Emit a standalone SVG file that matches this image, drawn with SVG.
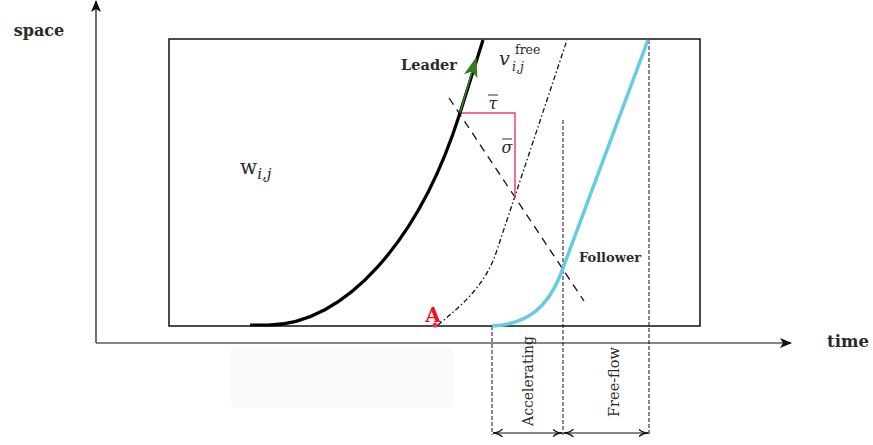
<svg xmlns="http://www.w3.org/2000/svg" width="873" height="445" viewBox="0 0 873 445">
<defs>
<marker id="ax" viewBox="0 0 12 10" refX="11" refY="5" markerWidth="12" markerHeight="10" markerUnits="userSpaceOnUse" orient="auto">
<path d="M0,0 L12,5 L0,10 L3,5 Z" fill="#111"/>
</marker>
<marker id="dim" viewBox="0 0 10 8" refX="9.5" refY="4" markerWidth="10" markerHeight="8" markerUnits="userSpaceOnUse" orient="auto-start-reverse">
<path d="M0,0 Q4,4 10,4 Q4,4 0,8" fill="none" stroke="#111" stroke-width="1.3"/>
</marker>
<marker id="gr" viewBox="0 0 20 14" refX="19" refY="7" markerWidth="20" markerHeight="14" markerUnits="userSpaceOnUse" orient="auto">
<path d="M0,0 L20,7 L0,14 L5,7 Z" fill="#3a7d1e"/>
</marker>
</defs>
<style>
.lbl{font-family:"DejaVu Serif","Liberation Serif",serif;fill:#2a2a2a}
.b{font-weight:bold}
.it{font-style:italic}
.dash{fill:none;stroke:#111;stroke-width:1;stroke-dasharray:4,2}
</style>
<rect x="0" y="0" width="873" height="445" fill="#fff"/>
<rect x="231" y="348" width="222" height="59" fill="#fafafa"/>

<g id="axes">
<line x1="96" y1="343" x2="96" y2="1" stroke="#111" stroke-width="1.2" marker-end="url(#ax)"/>
<line x1="96" y1="343" x2="791" y2="343" stroke="#111" stroke-width="1.2" marker-end="url(#ax)"/>
<text class="lbl b" x="39" y="36" font-size="16" text-anchor="middle">space</text>
<text class="lbl b" x="848" y="347" font-size="16.5" text-anchor="middle">time</text>
</g>

<g id="region">
<rect x="169" y="39" width="531" height="287" fill="none" stroke="#000" stroke-width="1.4"/>
<text class="lbl" x="240" y="174" font-size="20">w<tspan class="it" font-size="15" dy="5">i,j</tspan></text>
</g>

<g id="connectors">
<line x1="449" y1="98" x2="584" y2="301" stroke="#111" stroke-width="1.3" stroke-dasharray="8,6"/>
<path d="M438,325 C462,305 486,285 497,250 L567,40" fill="none" stroke="#111" stroke-width="1.3" stroke-dasharray="5,2.5,1.5,2.5"/>
<line class="dash" x1="563" y1="120" x2="563" y2="435"/>
<line class="dash" x1="649" y1="40" x2="649" y2="435"/>
<line class="dash" x1="492" y1="326" x2="492" y2="435"/>
<line x1="493" y1="433" x2="562" y2="433" stroke="#111" stroke-width="1.2" marker-start="url(#dim)" marker-end="url(#dim)"/>
<line x1="564" y1="433" x2="648" y2="433" stroke="#111" stroke-width="1.2" marker-start="url(#dim)" marker-end="url(#dim)"/>
<polyline points="460,113 515,113 515,198" fill="none" stroke="#ee4466" stroke-width="1.5"/>
</g>

<g id="leader">
<path d="M250,325 L268,325 C345,325 420,240 460,113 L483,40" fill="none" stroke="#000" stroke-width="3.2"/>
<line x1="460" y1="113" x2="476" y2="58" stroke="#3a7d1e" stroke-width="1.6" marker-end="url(#gr)"/>
<text class="lbl b" x="429" y="70" font-size="14.5" text-anchor="middle">Leader</text>
</g>

<g id="vfree">
<text class="lbl it" x="499" y="65" font-size="19">v</text>
<text class="lbl" x="515" y="54" font-size="12.5">free</text>
<text class="lbl it" x="512" y="71" font-size="12.5">i,j</text>
</g>

<g id="tau">
<text class="lbl it" x="493" y="109" font-size="16" text-anchor="middle">τ</text>
<line x1="488" y1="95" x2="498" y2="95" stroke="#333" stroke-width="1"/>
</g>
<g id="sigma">
<text class="lbl it" x="507" y="153" font-size="16" text-anchor="middle">σ</text>
<line x1="502" y1="139" x2="512" y2="139" stroke="#333" stroke-width="1"/>
</g>

<g id="pointA">
<circle cx="435" cy="325" r="2.6" fill="#dd3355"/>
<text x="433" y="322" font-family="'DejaVu Serif',serif" font-weight="bold" font-size="20" fill="#ee1122" text-anchor="middle">A</text>
</g>

<g id="follower">
<path d="M492,326 C530,324 548,305 560,276 L648,40" fill="none" stroke="#66ccdf" stroke-width="3.5"/>
<text class="lbl b" x="610" y="262" font-size="13" text-anchor="middle">Follower</text>
</g>

<g id="phases">
<text class="lbl" transform="translate(533,381) rotate(-90)" font-size="14" text-anchor="middle">Accelerating</text>
<text class="lbl" transform="translate(619,382) rotate(-90)" font-size="14.5" text-anchor="middle">Free-flow</text>
</g>
</svg>
